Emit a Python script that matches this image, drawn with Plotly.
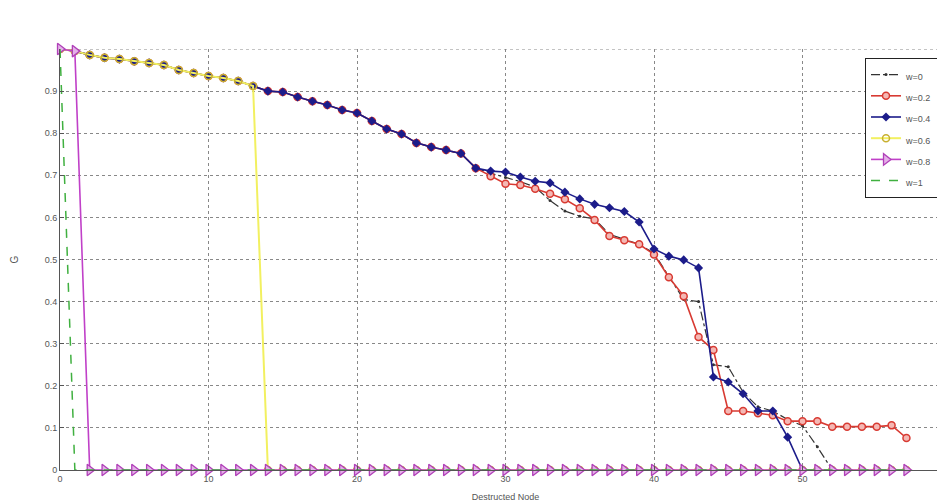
import plotly.graph_objects as go

nodes = list(range(0, 58))

common = [1.000, 0.995, 0.986, 0.979, 0.976, 0.971, 0.967, 0.962, 0.950, 0.943,
          0.936, 0.931, 0.924, 0.912, 0.900, 0.898, 0.886, 0.876, 0.867, 0.855,
          0.848, 0.829, 0.810, 0.798, 0.777, 0.767, 0.760, 0.752, 0.717]

w0_tail = [0.705, 0.695, 0.685, 0.672, 0.640, 0.615, 0.603, 0.596, 0.560, 0.548,
           0.536, 0.515, 0.460, 0.405, 0.400, 0.250, 0.245, 0.185, 0.150, 0.140,
           0.120, 0.105, 0.055, 0.0, 0.0, 0.0, 0.0, 0.0, 0.0]

w02_tail = [0.698, 0.680, 0.677, 0.668, 0.656, 0.643, 0.622, 0.594, 0.556, 0.546,
            0.536, 0.512, 0.458, 0.413, 0.316, 0.285, 0.140, 0.140, 0.135, 0.130,
            0.116, 0.116, 0.116, 0.103, 0.103, 0.103, 0.103, 0.106, 0.076]

w04_tail = [0.710, 0.708, 0.696, 0.686, 0.682, 0.660, 0.644, 0.631, 0.623, 0.614,
            0.589, 0.525, 0.508, 0.499, 0.480, 0.221, 0.209, 0.181, 0.140, 0.140,
            0.078, 0.0, 0.0, 0.0, 0.0, 0.0, 0.0, 0.0, 0.0]

w06_head = common[:14]
w08_head = [1.000, 0.995]
w1_head = [1.000]

w0 = common + w0_tail
w02 = common + w02_tail
w04 = common + w04_tail
w06 = w06_head + [0.0] * (58 - len(w06_head))
w08 = w08_head + [0.0] * (58 - len(w08_head))
w1 = w1_head + [0.0] * (58 - len(w1_head))

x_ticks = [0, 10, 20, 30, 40, 50, 60]
x_tick_labels = ["0", "10", "20", "30", "40", "50", "60"]
y_ticks = [0, 0.1, 0.2, 0.3, 0.4, 0.5, 0.6, 0.7, 0.8, 0.9]
y_tick_labels = ["0", "0.1", "0.2", "0.3", "0.4", "0.5", "0.6", "0.7", "0.8", "0.9"]


def lbl(s):
    return '<span style="font-size:9px">' + s + '</span>'


fig = go.Figure()
fig.add_trace(go.Scatter(x=nodes, y=w0, name=lbl("w=0"), mode="lines+markers",
                         line=dict(color="#333333", width=1.2, dash="dashdot"),
                         marker=dict(symbol="circle", size=3, color="#333333")))
fig.add_trace(go.Scatter(x=nodes, y=w02, name=lbl("w=0.2"), mode="lines+markers",
                         line=dict(color="#d83a32", width=1.6),
                         marker=dict(symbol="circle", size=7, color="#f4b8b4",
                                     line=dict(color="#d83a32", width=1.5))))
fig.add_trace(go.Scatter(x=nodes, y=w04, name=lbl("w=0.4"), mode="lines+markers",
                         line=dict(color="#1c1c8a", width=1.6),
                         marker=dict(symbol="diamond", size=7, color="#1c1c8a")))
fig.add_trace(go.Scatter(x=nodes, y=w06, name=lbl("w=0.6"), mode="lines+markers",
                         line=dict(color="#f2f060", width=2),
                         marker=dict(symbol="circle-open", size=7, color="#c8b030",
                                     line=dict(width=1.5))))
fig.add_trace(go.Scatter(x=nodes, y=w08, name=lbl("w=0.8"), mode="lines+markers",
                         line=dict(color="#c040c8", width=1.6), cliponaxis=False,
                         marker=dict(symbol="triangle-right", size=10, color="#e4b0e8",
                                     line=dict(color="#b040b8", width=1.3))))
fig.add_trace(go.Scatter(x=nodes, y=w1, name=lbl("w=1"), mode="lines",
                         line=dict(color="#40b040", width=1.5, dash="dash")))

W, H = 945, 503
ml, mr, mt, mb = 52, 2, 41, 41
pw = W - ml - mr
ph = H - mt - mb

fig.update_layout(
    width=W, height=H,
    margin=dict(l=ml, r=mr, t=mt, b=mb),
    paper_bgcolor="white", plot_bgcolor="white",
    font=dict(family="Liberation Sans, Arial, sans-serif", size=9, color="#555555"),
    showlegend=True,
    legend=dict(x=(857 - ml) / pw, y=(H - mb - 50) / ph, xanchor="left", yanchor="top",
                bgcolor="white", bordercolor="#222222", borderwidth=1,
                font=dict(size=14, color="#555555"), itemwidth=30,
                tracegroupgap=0),
    xaxis=dict(range=[0, 60], tickvals=x_ticks, ticktext=x_tick_labels,
               showgrid=True, gridcolor="#888888", griddash="dot", gridwidth=1,
               zeroline=False, showline=True, linecolor="#555555", linewidth=1,
               ticks="inside", ticklen=4, tickcolor="#555555",
               title=dict(text="Destructed Node", standoff=10,
                          font=dict(size=9, color="#555555")),
               automargin=False),
    yaxis=dict(range=[0, 1], tickvals=y_ticks, ticktext=y_tick_labels,
               showgrid=True, gridcolor="#888888", griddash="dot", gridwidth=1,
               zeroline=False, showline=True, linecolor="#555555", linewidth=1,
               ticks="inside", ticklen=4, tickcolor="#555555",
               title=dict(text="G", standoff=24, font=dict(size=10, color="#555555")),
               automargin=False),
)
# top grid line at 1.0
fig.add_shape(type="line", xref="x", yref="y", x0=0, x1=60, y0=1, y1=1,
              line=dict(color="#888888", width=1, dash="dot"), layer="below")

fig.write_html("out.html")
